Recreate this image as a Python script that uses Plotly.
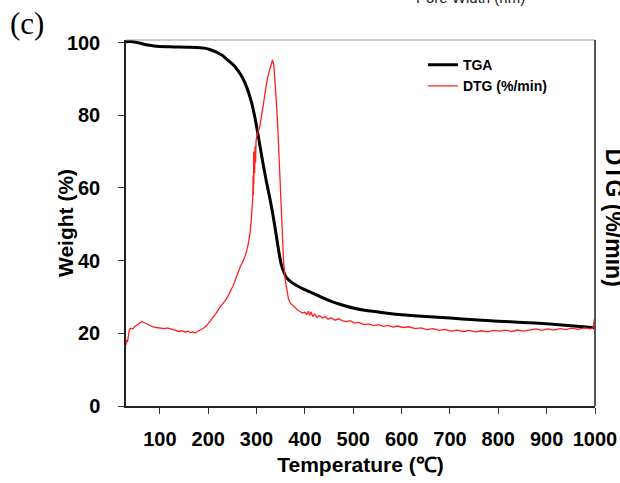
import plotly.graph_objects as go

# ---- data ----
tga_temp = [30, 40, 50, 60, 72, 85, 100, 127, 155, 183, 195, 203, 215, 230, 240, 251,
            262, 271, 280, 289, 296, 300, 305, 313, 320, 327, 334, 341, 346, 351, 356,
            362, 370, 382, 396, 410, 424, 440, 456, 472, 486, 500, 520, 555, 600, 650,
            700, 750, 800, 850, 900, 950, 1000]
tga_weight = [100.2, 100.3, 100.1, 99.8, 99.4, 99.1, 98.9, 98.8, 98.7, 98.6, 98.4, 98.1,
              97.5, 96.4, 95.2, 94.0, 92.2, 90.3, 87.6, 83.8, 79.8, 77.0, 73.2, 67.0,
              62.0, 57.5, 52.5, 46.8, 42.5, 39.0, 37.0, 35.3, 34.3, 33.2, 32.2, 31.4,
              30.6, 29.6, 28.7, 28.0, 27.45, 26.95, 26.4, 25.8, 25.1, 24.6, 24.2, 23.7,
              23.3, 23.0, 22.6, 22.1, 21.5]

dtg_temp = [30, 31, 33, 35, 37, 40, 44, 48, 53, 58, 63, 68, 74, 80, 86, 92, 98, 104, 110,
            116, 122, 128, 134, 140, 146, 152, 158, 163, 168, 173, 178, 184, 190, 196,
            202, 207, 212, 217, 222, 227, 232, 237, 242, 247, 252, 257, 262, 267, 272,
            277, 282, 286, 289, 291, 292, 293, 293.5, 294, 294.5, 295, 296, 297, 298,
            299, 301, 304, 307, 310, 313, 317, 321, 325, 329, 333, 336, 338, 341, 344,
            347, 350, 353, 356, 359, 362, 366, 370, 375, 380, 385, 390, 395, 400, 404,
            407, 410, 413, 416, 420, 425, 430, 436, 442, 448, 455, 462, 470, 478, 486,
            494, 502, 512, 522, 532, 542, 552, 562, 572, 582, 592, 602, 615, 628, 640,
            652, 665, 678, 690, 702, 715, 728, 740, 752, 765, 778, 790, 802, 815, 828,
            840, 852, 865, 878, 890, 902, 915, 928, 940, 952, 965, 978, 990, 995, 997,
            999, 1000]
dtg_rate = [16.8, 18.2, 17.6, 19.8, 21.0, 21.4, 21.2, 21.9, 22.4, 22.9, 23.2, 22.9, 22.5,
            22.1, 21.8, 21.6, 21.5, 21.2, 21.3, 21.5, 21.2, 20.9, 20.7, 20.5, 20.7, 20.3,
            20.6, 20.2, 20.4, 20.1, 20.5, 20.9, 21.4, 22.0, 23.0, 23.9, 24.7, 25.6, 26.7,
            27.5, 28.3, 29.3, 30.5, 31.8, 33.2, 35.0, 36.8, 38.5, 39.8, 41.5, 44.0, 47.0,
            51.0, 54.0, 57.0, 63.5, 58.0, 70.0, 61.0, 69.0, 64.0, 71.5, 67.0, 73.0, 74.5,
            75.8, 77.0, 79.5, 82.5, 85.0, 89.0, 91.5, 93.8, 95.2, 93.5, 90.0, 83.5, 76.5,
            66.0, 56.0, 46.5, 39.5, 35.0, 32.0, 29.5, 28.3, 27.6, 26.8, 26.4, 26.0, 25.6,
            25.8, 25.2, 26.1, 24.9, 25.9, 24.6, 25.3, 24.4, 24.9, 24.2, 24.6, 23.9, 24.3,
            23.6, 24.0, 23.4, 23.2, 23.5, 22.8, 23.0, 22.4, 22.6, 22.1, 22.4, 21.9, 22.2,
            21.7, 22.0, 21.6, 21.8, 21.3, 21.5, 21.0, 21.3, 20.8, 21.1, 20.6, 20.9, 20.5,
            20.8, 20.4, 20.7, 20.4, 20.8, 20.6, 20.9, 20.5, 20.9, 20.6, 20.9, 21.2, 20.8,
            21.2, 20.9, 21.3, 21.0, 21.4, 21.1, 21.5, 21.2, 21.4, 22.3, 24.2, 21.6]

x_ticks = [100, 200, 300, 400, 500, 600, 700, 800, 900, 1000]
y_ticks = [0, 20, 40, 60, 80, 100]

FONT = "Liberation Sans"

fig = go.Figure()
fig.add_trace(go.Scatter(x=tga_temp, y=tga_weight, mode="lines", name="TGA",
                         line=dict(color="black", width=3, shape="spline", smoothing=0.5)))
fig.add_trace(go.Scatter(x=dtg_temp, y=dtg_rate, mode="lines", name="DTG (%/min)",
                         line=dict(color="#ff2020", width=1.3)))

fig.update_layout(
    width=620, height=483,
    margin=dict(l=126, r=25, t=40, b=77, autoexpand=False),
    paper_bgcolor="white", plot_bgcolor="white",
    showlegend=True, hovermode=False,
    legend=dict(x=0.633, y=0.975, xanchor="left", yanchor="top",
                bgcolor="rgba(0,0,0,0)", borderwidth=0,
                font=dict(family=FONT, size=14, color="black", weight="bold"),
                tracegroupgap=0, itemwidth=30),
    xaxis=dict(range=[30, 1000], tickvals=x_ticks, ticks="outside", ticklen=6,
               tickwidth=1.2, tickcolor="#333", showline=True, linecolor="#222",
               linewidth=1.5, showgrid=False, zeroline=False, ticklabelstandoff=8,
               automargin=False,
               tickfont=dict(family=FONT, size=20, color="black", weight="bold"),
               title=dict(text="Temperature (℃)", standoff=9,
                          font=dict(family=FONT, size=21, color="black", weight="bold"))),
    yaxis=dict(range=[0, 100.7], tickvals=y_ticks, ticks="outside", ticklen=6,
               tickwidth=1.2, tickcolor="#333", showline=True, linecolor="#222",
               linewidth=1.5, showgrid=False, zeroline=False, ticklabelstandoff=14,
               automargin=False,
               tickfont=dict(family=FONT, size=20, color="black", weight="bold")),
    shapes=[
        dict(type="line", xref="paper", yref="paper", x0=0, x1=1, y0=1, y1=1,
             line=dict(color="#9a9a9a", width=1)),
        dict(type="line", xref="paper", yref="paper", x0=1, x1=1, y0=0, y1=1,
             line=dict(color="#555", width=2)),
    ],
    annotations=[
        dict(text="Weight (%)", xref="paper", yref="paper", x=-0.130, y=0.5,
             xanchor="center", yanchor="middle", showarrow=False, textangle=-90,
             font=dict(family=FONT, size=21, color="black", weight="bold")),
        dict(text="(c)", xref="paper", yref="paper", x=-0.211, y=1.044,
             xanchor="center", yanchor="middle", showarrow=False,
             font=dict(family="Liberation Serif", size=31, color="black")),
        dict(text="Pore Width (nm)", xref="paper", yref="paper", x=0.735, y=1.115,
             xanchor="center", yanchor="middle", showarrow=False,
             font=dict(family=FONT, size=15, color="#222")),
        dict(text="DTG (%/min)", xref="paper", yref="paper", x=1.042, y=0.515,
             xanchor="center", yanchor="middle", showarrow=False, textangle=90,
             font=dict(family=FONT, size=23, color="black", weight="bold")),
    ],
)

fig.write_html("out.html", config={"displayModeBar": False},
               post_script="document.body.style.margin='0';document.body.style.overflow='hidden';")
